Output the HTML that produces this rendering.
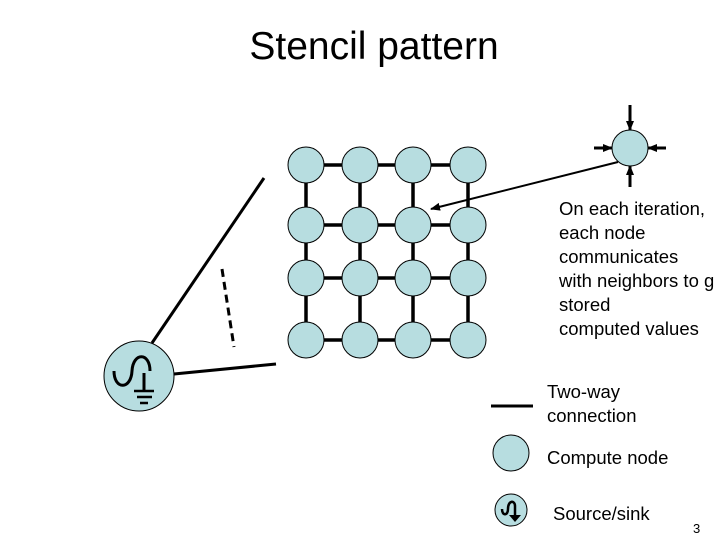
<!DOCTYPE html>
<html><head><style>body{margin:0;background:#fff}svg{display:block}</style></head><body>
<svg width="720" height="540" xmlns="http://www.w3.org/2000/svg" font-family="Liberation Sans, Arial, sans-serif">
<defs><marker id="ah" markerWidth="10" markerHeight="10" refX="9" refY="5" orient="auto" markerUnits="userSpaceOnUse"><path d="M0,1 L10,5 L0,9 z" fill="#000"/></marker></defs>
<text x="374" y="59" font-size="39" text-anchor="middle">Stencil pattern</text>
<g stroke="#000" stroke-width="3.5">
<line x1="306" y1="165" x2="468" y2="165"/><line x1="306" y1="225" x2="468" y2="225"/>
<line x1="306" y1="278" x2="468" y2="278"/><line x1="306" y1="340" x2="468" y2="340"/>
<line x1="306" y1="165" x2="306" y2="340"/><line x1="360" y1="165" x2="360" y2="340"/>
<line x1="413" y1="165" x2="413" y2="340"/><line x1="468" y1="165" x2="468" y2="340"/>
</g>
<g fill="#B7DDE0" stroke="#000" stroke-width="1">
<circle cx="306" cy="165" r="18"/><circle cx="360" cy="165" r="18"/><circle cx="413" cy="165" r="18"/><circle cx="468" cy="165" r="18"/>
<circle cx="306" cy="225" r="18"/><circle cx="360" cy="225" r="18"/><circle cx="413" cy="225" r="18"/><circle cx="468" cy="225" r="18"/>
<circle cx="306" cy="278" r="18"/><circle cx="360" cy="278" r="18"/><circle cx="413" cy="278" r="18"/><circle cx="468" cy="278" r="18"/>
<circle cx="306" cy="340" r="18"/><circle cx="360" cy="340" r="18"/><circle cx="413" cy="340" r="18"/><circle cx="468" cy="340" r="18"/>
</g>
<line x1="618" y1="162" x2="431" y2="209" stroke="#000" stroke-width="2" marker-end="url(#ah)"/>
<g stroke="#000" stroke-width="3">
<line x1="630" y1="105" x2="630" y2="130" marker-end="url(#ah)"/>
<line x1="630" y1="187" x2="630" y2="166" marker-end="url(#ah)"/>
<line x1="594" y1="148" x2="612" y2="148" marker-end="url(#ah)"/>
<line x1="666" y1="148" x2="648" y2="148" marker-end="url(#ah)"/>
</g>
<circle cx="630" cy="148" r="18" fill="#B7DDE0" stroke="#000"/>
<g stroke="#000" stroke-width="3">
<line x1="152" y1="343" x2="264" y2="178"/>
<line x1="174" y1="374" x2="276" y2="364"/>
<line x1="222" y1="269" x2="234" y2="347" stroke-dasharray="8,5"/>
</g>
<circle cx="139" cy="376" r="35" fill="#B7DDE0" stroke="#000"/>
<g fill="none" stroke="#000" stroke-width="3">
<path d="M114,371 C114,390 131,390 132,371 C133,352 150,352 150,371"/>
<line x1="144" y1="373" x2="144" y2="391"/>
<line x1="134" y1="391" x2="154" y2="391" stroke-width="2.5"/>
<line x1="137" y1="397" x2="152" y2="397" stroke-width="2.5"/>
<line x1="140" y1="403" x2="148" y2="403" stroke-width="2.5"/>
</g>
<g font-size="18.5">
<text x="559" y="215">On each iteration,</text>
<text x="559" y="239">each node</text>
<text x="559" y="263">communicates</text>
<text x="559" y="287">with neighbors to g</text>
<text x="559" y="311">stored</text>
<text x="559" y="335">computed values</text>
<text x="547" y="398">Two-way</text>
<text x="547" y="422">connection</text>
<text x="547" y="464">Compute node</text>
<text x="553" y="520">Source/sink</text>
</g>
<text x="693" y="533" font-size="13">3</text>
<line x1="491" y1="406" x2="533" y2="406" stroke="#000" stroke-width="3"/>
<circle cx="511" cy="453" r="18" fill="#B7DDE0" stroke="#000"/>
<circle cx="511" cy="510" r="16" fill="#B7DDE0" stroke="#000"/>
<path d="M502,509 C502,516 508,516 508,509 C508,500 515,500 515,506 M515,506 L515,518" fill="none" stroke="#000" stroke-width="2.5"/>
<path d="M509,515 L521,515 L515,522 z" fill="#000"/>
</svg>
</body></html>
